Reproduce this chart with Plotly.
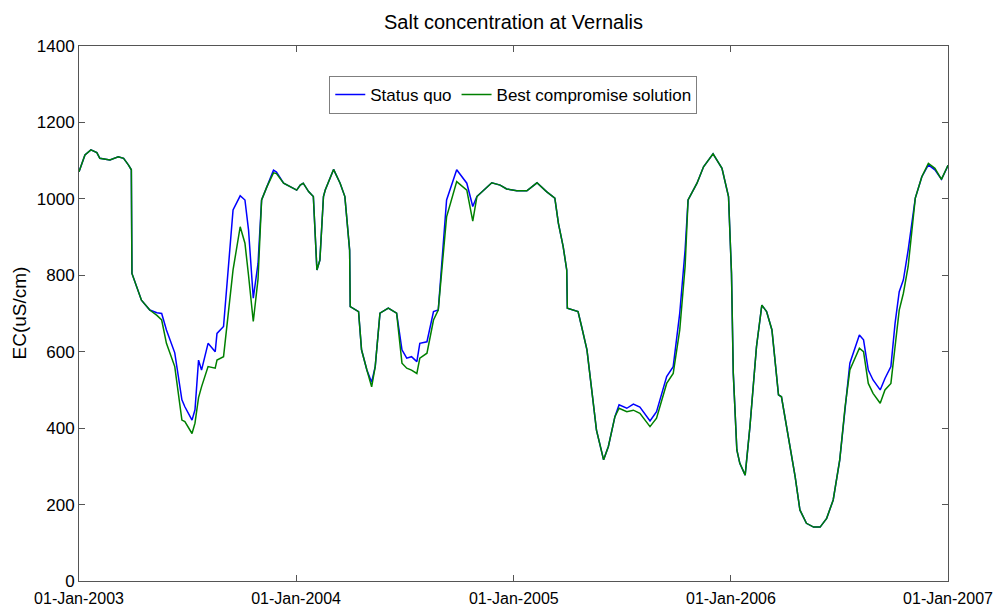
import pandas as pd
import plotly.graph_objects as go

# days since 01-Jan-2003
days = [0, 5, 10, 20, 30, 35, 52, 66, 75, 83, 88, 89, 97, 105, 119, 131, 139, 147, 161, 173,
        178, 190, 195, 201, 206, 217, 229, 232, 243, 251, 259, 271, 279, 285, 293, 301, 307, 316, 327, 332,
        344, 366, 372, 377, 386, 394, 400, 405, 411, 414, 428, 439, 447, 455, 456, 470, 475, 484, 492, 498,
        506, 520, 534, 543, 551, 559, 568, 573, 585, 596, 604, 618, 635, 652, 662, 669, 694, 708, 719, 736,
        753, 770, 786, 800, 806, 814, 820, 821, 839, 845, 854, 862, 870, 882, 890, 901, 908, 921, 932, 943,
        960, 971, 988, 999, 1010, 1019, 1024, 1039, 1050, 1066, 1081, 1092, 1097, 1100, 1106, 1111, 1120, 1128, 1139, 1148,
        1156, 1165, 1176, 1181, 1193, 1204, 1212, 1223, 1235, 1246, 1257, 1268, 1279, 1288, 1296, 1312, 1319, 1327, 1335, 1347,
        1355, 1365, 1372, 1379, 1386, 1394, 1406, 1417, 1428, 1439, 1450, 1459, 1461]

status_quo = [1071, 1093, 1115, 1128, 1121, 1106, 1102, 1110, 1106, 1089, 1076, 805, 770, 735, 709, 702, 700, 657, 597, 474,
              456, 421, 448, 578, 552, 622, 600, 648, 666, 814, 971, 1008, 997, 919, 740, 831, 997, 1032, 1075, 1070,
              1041, 1023, 1036, 1041, 1019, 1006, 814, 840, 1006, 1023, 1077, 1041, 1006, 866, 718, 705, 605, 552, 520, 561,
              701, 714, 701, 605, 583, 587, 574, 622, 626, 705, 709, 997, 1076, 1041, 980, 1006, 1042, 1036, 1026, 1021,
              1021, 1042, 1019, 1002, 936, 875, 814, 714, 705, 666, 605, 500, 395, 317, 352, 430, 461, 452, 463, 455,
              419, 443, 535, 561, 701, 866, 997, 1041, 1084, 1118, 1080, 1006, 805, 544, 343, 308, 277, 404, 613, 722,
              705, 657, 487, 482, 378, 273, 186, 151, 141, 141, 164, 212, 317, 456, 570, 644, 631, 552, 526, 500,
              530, 561, 674, 757, 788, 866, 1002, 1058, 1089, 1076, 1051, 1080, 1088]

best_compromise = [1071, 1093, 1115, 1128, 1121, 1106, 1102, 1110, 1106, 1089, 1076, 805, 770, 735, 709, 695, 683, 622, 561, 421,
                   417, 386, 413, 480, 508, 561, 557, 578, 587, 700, 814, 927, 884, 800, 679, 790, 997, 1032, 1068, 1066,
                   1041, 1023, 1036, 1041, 1019, 1006, 814, 840, 1006, 1023, 1077, 1041, 1006, 866, 718, 705, 605, 552, 508, 561,
                   701, 714, 701, 570, 557, 552, 543, 583, 596, 683, 709, 953, 1045, 1023, 942, 1006, 1042, 1036, 1026, 1021,
                   1021, 1042, 1019, 1002, 936, 875, 814, 714, 705, 666, 605, 500, 395, 317, 352, 430, 452, 443, 447, 439,
                   404, 426, 517, 543, 657, 823, 997, 1041, 1084, 1118, 1080, 1006, 805, 544, 343, 308, 277, 404, 613, 722,
                   705, 657, 487, 482, 378, 273, 186, 151, 141, 141, 164, 212, 317, 456, 552, 609, 600, 517, 491, 465,
                   500, 517, 613, 709, 753, 823, 1002, 1058, 1093, 1080, 1051, 1080, 1088]

tick_dates = ["2003-01-01", "2004-01-01", "2005-01-01", "2006-01-01", "2007-01-01"]
tick_labels = ["01-Jan-2003", "01-Jan-2004", "01-Jan-2005", "01-Jan-2006", "01-Jan-2007"]
y_ticks = [0, 200, 400, 600, 800, 1000, 1200, 1400]

dates = pd.Timestamp("2003-01-01") + pd.to_timedelta(days, unit="D")

font = "Liberation Sans, Arial, sans-serif"

fig = go.Figure()
fig.add_trace(go.Scatter(x=dates, y=status_quo, mode="lines", name="Status quo",
                         line=dict(color="#0000FF", width=1.5)))
fig.add_trace(go.Scatter(x=dates, y=best_compromise, mode="lines", name="Best compromise solution",
                         line=dict(color="#008000", width=1.5)))

fig.update_layout(
    width=1002, height=608,
    margin=dict(l=79, r=54, t=46, b=27, autoexpand=False),
    paper_bgcolor="white", plot_bgcolor="white",
    font=dict(family=font, size=17, color="black"),
    title=dict(text="Salt concentration at Vernalis", x=0.5, xref="paper", xanchor="center",
               y=1 - 22 / 608, yref="container", yanchor="middle",
               font=dict(family=font, size=20, color="black")),
    showlegend=True,
    legend=dict(orientation="h", x=0.288, y=0.944, xanchor="left", yanchor="top",
                bgcolor="white", bordercolor="#7f7f7f", borderwidth=1,
                font=dict(family=font, size=17, color="black"),
                itemwidth=30, tracegroupgap=0),
    xaxis=dict(range=[tick_dates[0], tick_dates[-1]], tickvals=tick_dates, ticktext=tick_labels,
               showgrid=False, zeroline=False, showline=True, linecolor="#555555", linewidth=1,
               mirror="ticks", ticks="inside", ticklen=6, tickcolor="#555555",
               ticklabelstandoff=3,
               tickfont=dict(family=font, size=16, color="black")),
    yaxis=dict(range=[0, 1400], tickvals=y_ticks, showgrid=False, zeroline=False,
               showline=True, linecolor="#555555", linewidth=1,
               mirror="ticks", ticks="inside", ticklen=6, tickcolor="#555555",
               tickfont=dict(family=font, size=17, color="black")),
    annotations=[dict(text="EC(uS/cm)", textangle=-90, xref="paper", yref="paper",
                      x=(19 - 79) / 869, y=0.5, xanchor="center", yanchor="middle",
                      showarrow=False, font=dict(family=font, size=19, color="black"))],
)

fig.write_html("out.html", config={"displayModeBar": False},
               post_script="document.body.style.margin='0';document.body.style.overflow='hidden';")
